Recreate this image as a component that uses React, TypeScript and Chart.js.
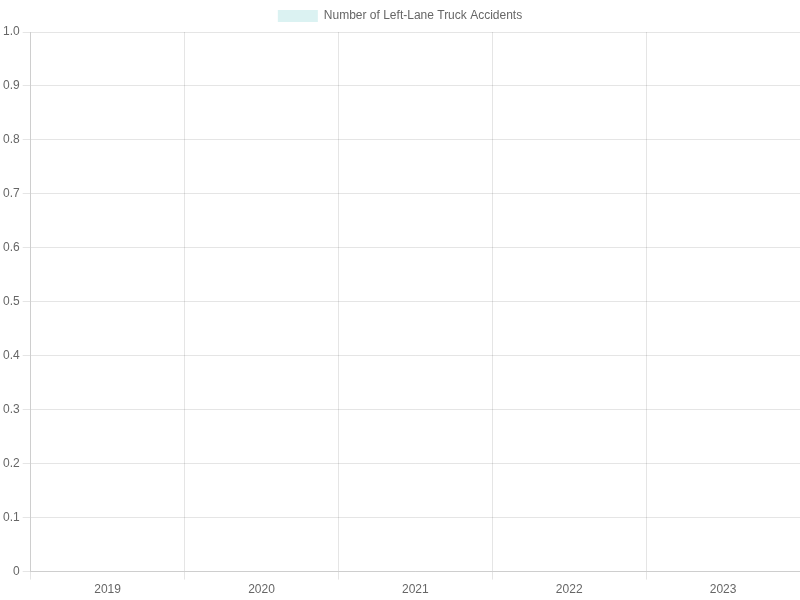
import React, { useEffect, useRef } from "react";
import { Chart, registerables } from "chart.js";

Chart.register(...registerables);

const categories: string[] = ["2019", "2020", "2021", "2022", "2023"];
const accidents: number[] = [0, 0, 0, 0, 0];
const seriesLabel = "Number of Left-Lane Truck Accidents";

export default function App() {
  const ref = useRef<HTMLCanvasElement | null>(null);

  useEffect(() => {
    document.body.style.margin = "0";
    if (!ref.current) return;
    const chart = new Chart(ref.current, {
      type: "bar",
      data: {
        labels: categories,
        datasets: [
          {
            label: seriesLabel,
            data: accidents,
            backgroundColor: "rgba(75, 192, 192, 0.2)",
            borderColor: "rgba(75, 192, 192, 1)",
            borderWidth: 0,
          },
        ],
      },
      options: {
        animation: false,
        responsive: true,
        maintainAspectRatio: false,
        scales: {
          y: { beginAtZero: true },
        },
      },
    });
    return () => chart.destroy();
  }, []);

  return (
    <div style={{ position: "fixed", left: 0, top: 0, width: 800, height: 600 }}>
      <canvas ref={ref} />
    </div>
  );
}
